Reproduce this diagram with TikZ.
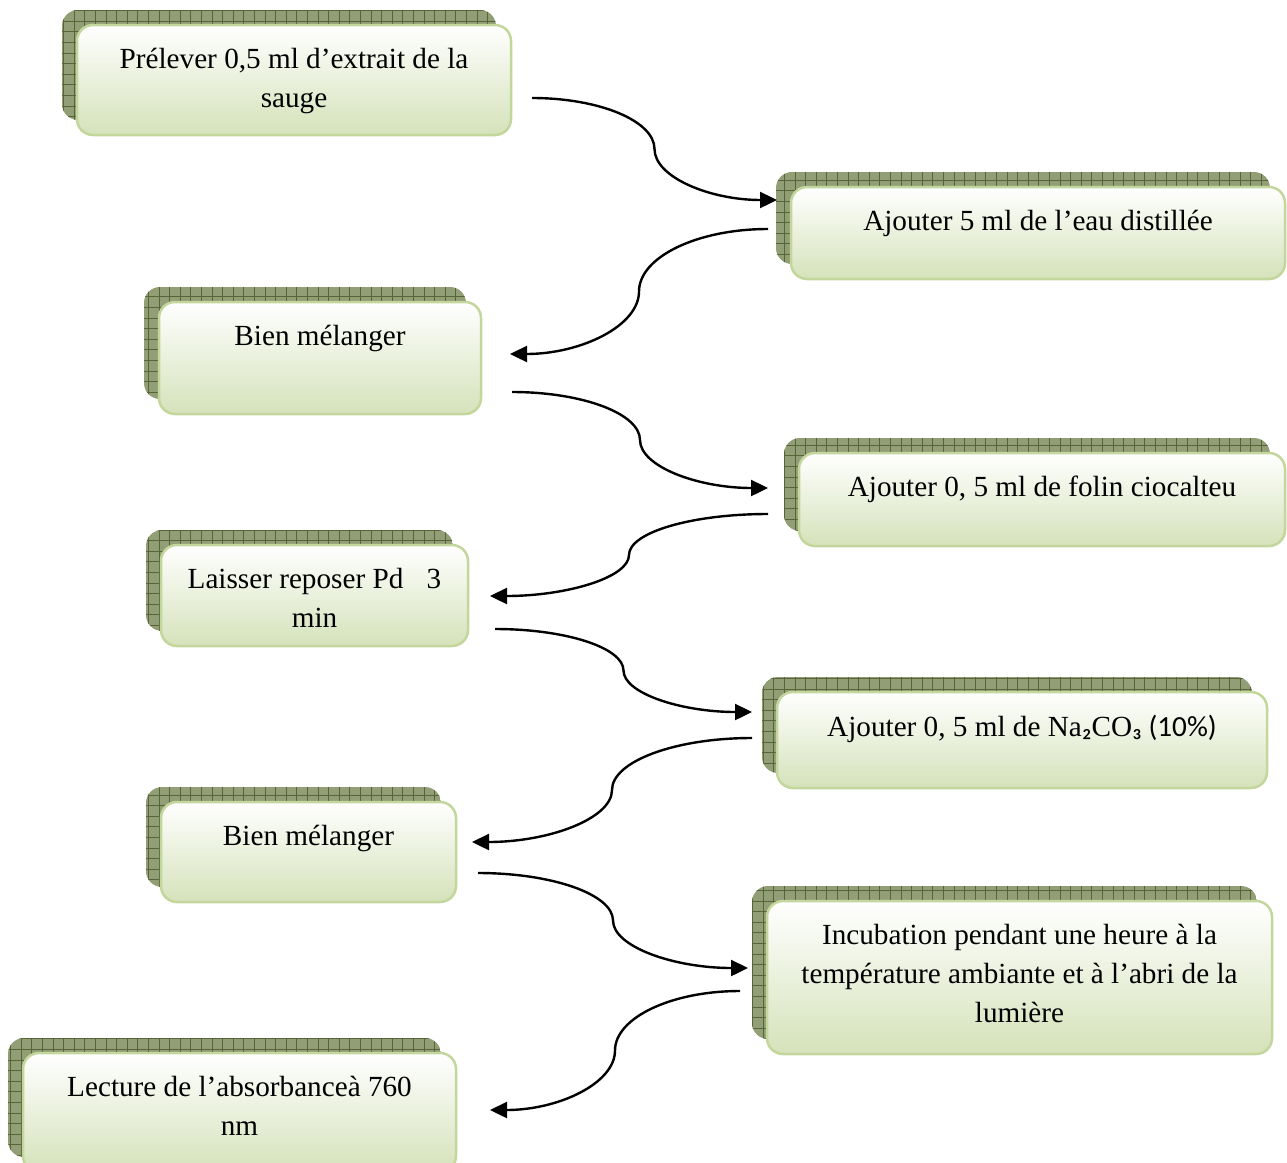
\documentclass[tikz,border=0pt]{standalone}
\usepackage{fontspec}
\setmainfont{Liberation Serif}
\newfontfamily\carlito{Carlito}
\usetikzlibrary{arrows.meta,calc}

\definecolor{boxedge}{RGB}{195,214,155}
\definecolor{boxgreen}{RGB}{213,226,186}
\definecolor{shadowbase}{RGB}{146,158,118}
\definecolor{shadowline}{RGB}{86,100,56}

\tikzset{
  stepbox/.style={draw=boxedge, line width=2.5pt, rounded corners=16pt,
    top color=white, bottom color=boxgreen, inner sep=0pt},
  steptext/.style={anchor=north, inner sep=0pt, align=center,
    font=\fontsize{29.2}{39}\selectfont},
  flowarrow/.style={line width=2.4pt, -{Triangle[length=17pt,width=16pt]}},
  % S-shaped connector: two quarter-ellipse arcs meeting half way
  scurve/.style={to path={
    let \p1=(\tikztostart), \p2=(\tikztotarget),
        \p3=($(\tikztostart)!0.5!(\tikztotarget)$) in
    .. controls ({\x1+0.55*(\x3-\x1)},\y1) and (\x3,{\y3+0.55*(\y1-\y3)}) .. (\p3)
    .. controls (\x3,{\y3+0.55*(\y2-\y3)}) and ({\x2+0.55*(\x3-\x2)},\y2) .. (\p2)}}
}

% one process step: name, left, top, right, bottom, text
\newcommand\flowstep[6]{%
  \begin{scope}
    \path[clip, rounded corners=16pt] (#2-15,#3-15) rectangle (#4-15,#5-15);
    \fill[shadowbase] (#2-15,#3-15) rectangle (#4-15,#5-15);
    \draw[shadowline, line width=1pt] (#2-15,#3-15) grid[step=10.6pt] (#4-15,#5-15);
  \end{scope}
  \node[stepbox, minimum width={#4-#2}, minimum height={#5-#3}]
    (#1) at ({(#2+#4)/2},{(#3+#5)/2}) {};
  \node[steptext] (#1t) at ($(#1.north)+(0,24)$) {#6};
}

\begin{document}
\begin{tikzpicture}[x=1pt, y=-1pt]
  \useasboundingbox (0,0) rectangle (1287,1162);
  \fill[white] (0,0) rectangle (1287,1162);

  \flowstep{b1}{77}{25}{511}{135}{Prélever 0,5 ml d’extrait de la\\sauge}
  \flowstep{b2}{791}{187}{1285}{279}{Ajouter 5 ml de l’eau distillée}
  \flowstep{b3}{159}{302}{481}{414}{Bien mélanger}
  \flowstep{b4}{799}{453}{1285}{546}{Ajouter 0, 5 ml de folin ciocalteu}
  \flowstep{b5}{161}{545}{468}{646}{Laisser reposer Pd\hspace{0.8em}3\\min}
  \flowstep{b6}{777}{692}{1267}{788}{Ajouter 0, 5 ml de Na{\carlito ₂}CO{\carlito ₃ (10\%)}}
  \flowstep{b7}{161}{802}{456}{902}{Bien mélanger}
  \flowstep{b8}{767}{901}{1272}{1054}{Incubation pendant une heure à la\\température ambiante et à l’abri de la\\lumière}
  \flowstep{b9}{23}{1053}{456}{1172}{Lecture de l’absorbanceà 760\\nm}

  % connector ends, in the gaps between the steps
  \coordinate (a1s) at (532,98);  \coordinate (a1e) at (777,200);
  \coordinate (a2s) at (768,229); \coordinate (a2e) at (510,354);
  \coordinate (a3s) at (512,392); \coordinate (a3e) at (768,488);
  \coordinate (a4s) at (768,514); \coordinate (a4e) at (490,596);
  \coordinate (a5s) at (495,629); \coordinate (a5e) at (752,712);
  \coordinate (a6s) at (752,738); \coordinate (a6e) at (472,842);
  \coordinate (a7s) at (478,873); \coordinate (a7e) at (748,968);
  \coordinate (a8s) at (740,991); \coordinate (a8e) at (490,1110);

  \foreach \i in {1,...,8}
    \draw[flowarrow] (a\i s) to[scurve] (a\i e);
\end{tikzpicture}
\end{document}
